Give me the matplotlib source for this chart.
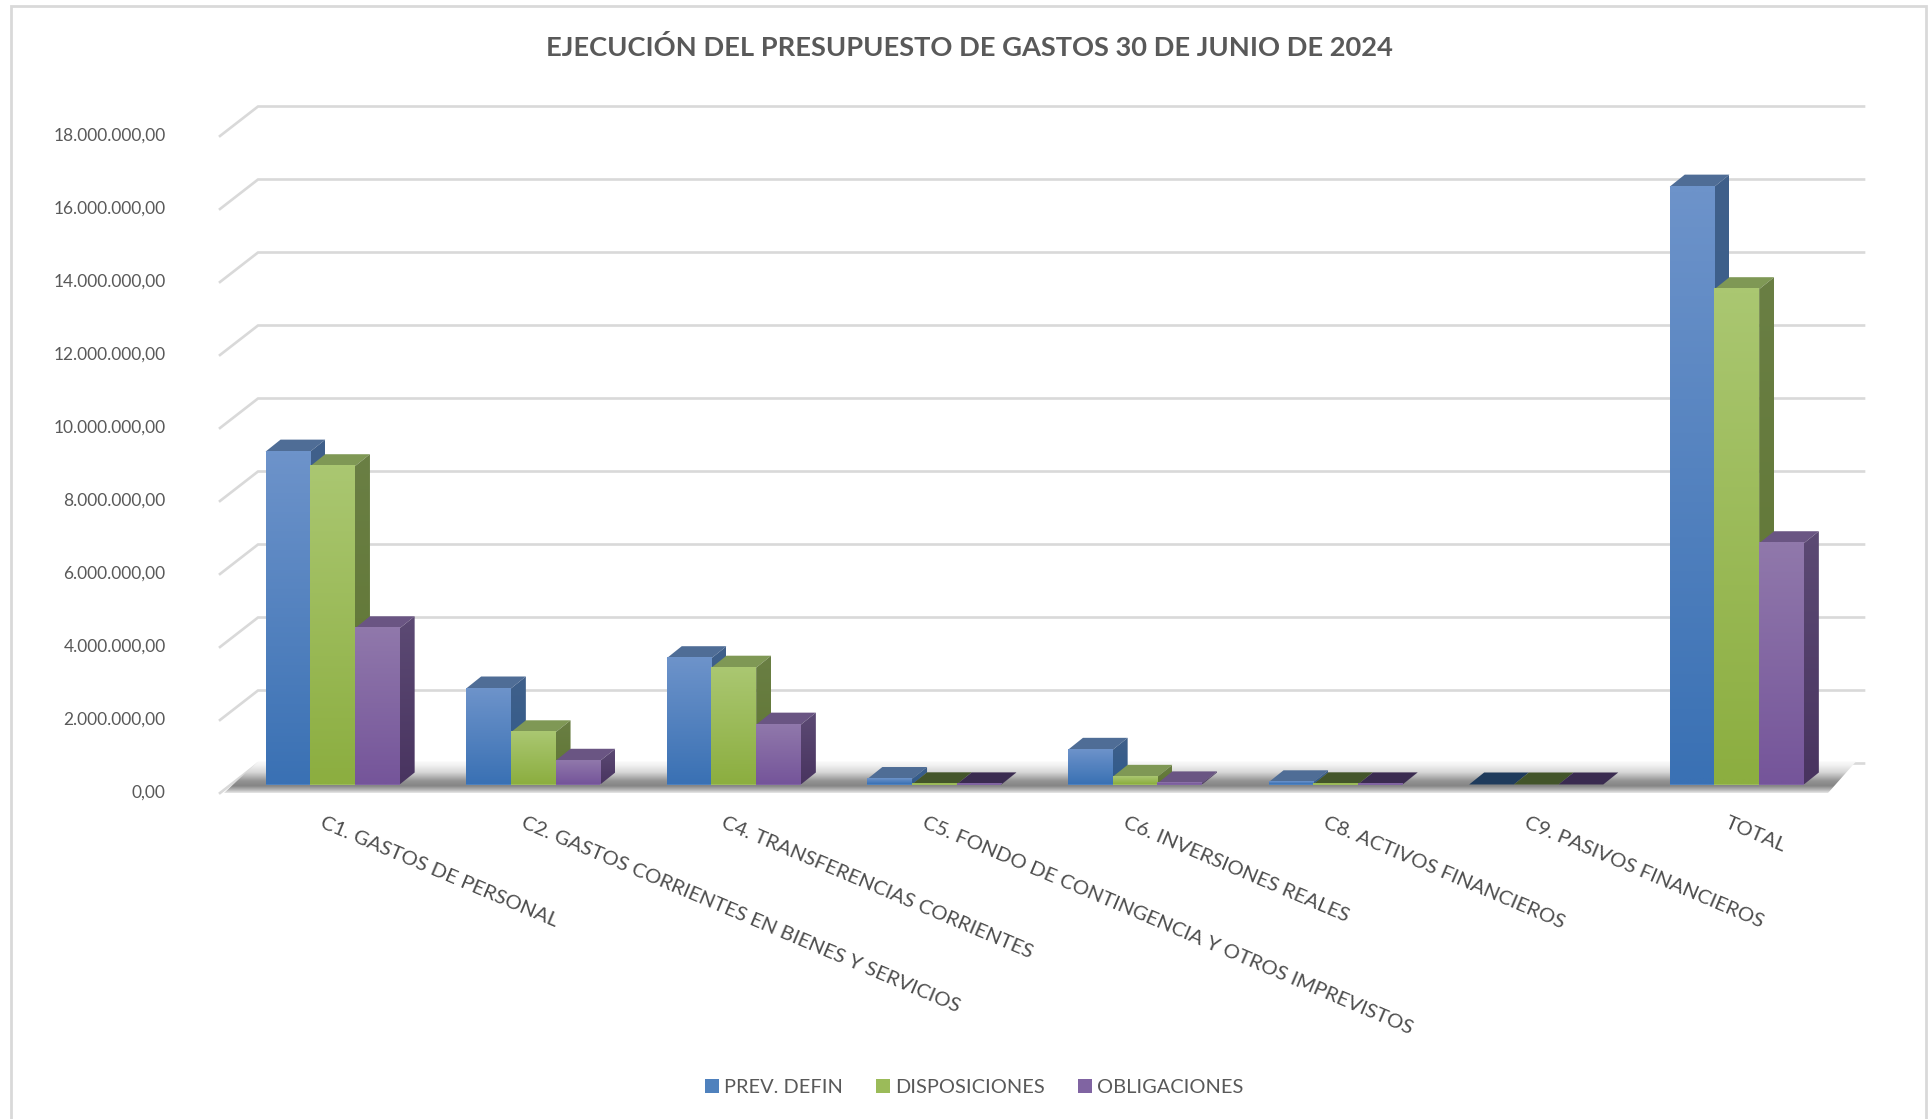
import numpy as np
import matplotlib
matplotlib.use("Agg")
import matplotlib.pyplot as plt
from matplotlib.colors import to_rgb
from matplotlib.patches import Polygon, Rectangle, Patch
from matplotlib.ticker import FuncFormatter
from matplotlib.transforms import ScaledTranslation

plt.rcParams['font.family'] = ['Lato', 'DejaVu Sans']

# ---------- data ----------
title = "EJECUCIÓN DEL PRESUPUESTO DE GASTOS 30 DE JUNIO DE 2024"
categories = ["C1. GASTOS DE PERSONAL",
              "C2. GASTOS CORRIENTES EN BIENES Y SERVICIOS",
              "C4. TRANSFERENCIAS CORRIENTES",
              "C5. FONDO DE CONTINGENCIA Y OTROS IMPREVISTOS",
              "C6. INVERSIONES REALES",
              "C8. ACTIVOS FINANCIEROS",
              "C9. PASIVOS FINANCIEROS",
              "TOTAL"]
prev_defin = [9120000, 2630000, 3460000, 150000, 950000, 60000, 0, 16380000]
disposiciones = [8720000, 1430000, 3200000, 5000, 210000, 5000, 0, 13570000]
obligaciones = [4280000, 650000, 1640000, 3000, 30000, 3000, 0, 6610000]
series_names = ["PREV. DEFIN", "DISPOSICIONES", "OBLIGACIONES"]
y_ticks = list(range(0, 18000001, 2000000))

# ---------- style ----------
W, H = 1928, 1119
DPI = 100
GROUP = 200.6      # px per category
V2M = 73.0         # px per 2 million
AX_L, AX_BASE = 232.3, 784.5
BAR_W = 44.7 / GROUP
DX_BAR, DY_BAR = 15.0, 12.0
GRID = '#d9d9d9'
TXT = '#595959'
front_cols = [('#6d93ca', '#3a71b4'), ('#aac771', '#8cae40'), ('#9078ab', '#75559a')]
side_cols = [('#40608a', '#2f5a8c'), ('#6a7f44', '#5f7532'), ('#5c4a74', '#493460')]
top_cols = ['#4f6d96', '#7f9855', '#6a5583']
flat_top_cols = ['#1f3b5c', '#43552a', '#3a2b50']
legend_cols = ['#4f81bd', '#9bbb59', '#8064a2']

fig = plt.figure(figsize=(W / DPI, H / DPI), dpi=DPI, facecolor='white')
ax = fig.add_axes([AX_L / W, 1 - AX_BASE / H, 8 * GROUP / W, 9 * V2M / H])
ax.set_facecolor('none')
for s in ax.spines.values():
    s.set_visible(False)


def px_x(px):
    return (px - AX_L) / GROUP - 0.5


def dx_d(px):
    return px / GROUP


def dy_d(px):
    return px * 2000000 / V2M


def gradient_poly(pts, rows, zorder):
    """Fill a polygon (data coords) with a vertical RGB gradient."""
    pts = np.asarray(pts)
    poly = Polygon(pts, closed=True, transform=ax.transData, facecolor='none', edgecolor='none')
    im = ax.imshow(rows[:, None, :], extent=[pts[:, 0].min(), pts[:, 0].max(), pts[:, 1].min(), pts[:, 1].max()],
                   aspect='auto', origin='upper', zorder=zorder, interpolation='bilinear')
    im.set_clip_box(fig.bbox)
    im.set_clip_path(poly)
    return im


def two_col(c0, c1, n=48):
    a, b = np.array(to_rgb(c0)), np.array(to_rgb(c1))
    t = np.linspace(0, 1, n)[:, None]
    return a + (b - a) * t


# frame
fig.add_artist(Rectangle((11 / W, -0.05), (1926 - 11) / W, 1.05 - 6 / H, transform=fig.transFigure,
                         facecolor='none', edgecolor=GRID, linewidth=2))

# walls
OFF_FRONT, OFF_BACK = 8.5, -21.0
X_FRONT, X_BACK, X_RIGHT, X_FRONT_RIGHT = 220.0, 258.0, 1864.0, 1828.0
for v in y_ticks:
    ax.plot([px_x(X_FRONT), px_x(X_BACK), px_x(X_RIGHT)],
            [v - dy_d(OFF_FRONT), v - dy_d(OFF_BACK), v - dy_d(OFF_BACK)],
            color=GRID, lw=1.9, clip_on=False, zorder=1, solid_joinstyle='miter')

# floor shadow
pos = [0.0, 0.12, 0.35, 0.62, 0.78, 0.92, 1.0]
lev = [0.98, 0.95, 0.84, 0.58, 0.52, 0.74, 0.90]
t = np.linspace(0, 1, 64)
g = np.interp(t, pos, lev)
floor_rows = np.stack([g, g, g], axis=1)
gradient_poly([(px_x(X_FRONT + 4), -dy_d(OFF_FRONT)), (px_x(X_FRONT_RIGHT), -dy_d(OFF_FRONT)),
               (px_x(X_RIGHT - 8), -dy_d(OFF_BACK - 2)), (px_x(X_BACK), -dy_d(OFF_BACK - 2))], floor_rows, 2)

# bars
all_series = [prev_defin, disposiciones, obligaciones]
x = np.arange(len(categories))
for s, vals in enumerate(all_series):
    z = 10 + s * 4
    offs = x + (s - 1) * BAR_W
    bars = ax.bar(offs, vals, BAR_W, color=legend_cols[s], zorder=z + 1, linewidth=0, label=series_names[s])
    ddx, ddy = dx_d(DX_BAR), dy_d(DY_BAR)
    for b, v in zip(bars, vals):
        x0, x1 = b.get_x(), b.get_x() + b.get_width()
        ax.add_patch(Polygon([(x0, v), (x1, v), (x1 + ddx, v + ddy), (x0 + ddx, v + ddy)], closed=True,
                             facecolor=top_cols[s] if v >= 20000 else flat_top_cols[s],
                             edgecolor='none', clip_on=False, zorder=z))
        if v > 0:
            gradient_poly([(x1, 0), (x1 + ddx, ddy), (x1 + ddx, v + ddy), (x1, v)],
                          two_col(*side_cols[s]), z)
            im = ax.imshow(two_col(*front_cols[s])[:, None, :], extent=[x0, x1, 0, v], aspect='auto',
                           origin='upper', zorder=z + 2, interpolation='bilinear')
            im.set_clip_box(fig.bbox)

ax.set_xlim(-0.5, len(categories) - 0.5)
ax.set_ylim(0, y_ticks[-1])

# axes text
fmt = lambda v, _: f"{v:,.2f}".replace(",", "X").replace(".", ",").replace("X", ".")
ax.set_yticks(y_ticks)
ax.yaxis.set_major_formatter(FuncFormatter(fmt))
ax.tick_params(axis='y', length=0, pad=48, labelsize=12.5, labelcolor=TXT)
for lab in ax.get_yticklabels():
    lab.set_transform(lab.get_transform() + ScaledTranslation(0, -7 / DPI, fig.dpi_scale_trans))

ax.set_xticks(x)
ax.set_xticklabels(categories, rotation=-23, ha='left', va='top', rotation_mode='anchor',
                   fontsize=14.7, color='#4d4d4d')
ax.tick_params(axis='x', length=0, pad=0)
for lab in ax.get_xticklabels():
    lab.set_transform(lab.get_transform() + ScaledTranslation(-8 / DPI, -30 / DPI, fig.dpi_scale_trans))

fig.suptitle(title, x=969 / W, y=1 - 48 / H, va='center', ha='center', fontsize=19.6, fontweight='bold', color=TXT)

handles = [Patch(facecolor=c, edgecolor='none', label=n) for c, n in zip(legend_cols, series_names)]
fig.legend(handles=handles, loc='center', bbox_to_anchor=(974 / W, 1 - 1087.5 / H), ncol=3, frameon=False,
           fontsize=14.4, labelcolor=TXT, handlelength=0.7, handleheight=0.7, handletextpad=0.25,
           columnspacing=1.65)

fig.savefig('out.png', dpi=DPI, facecolor='white')
